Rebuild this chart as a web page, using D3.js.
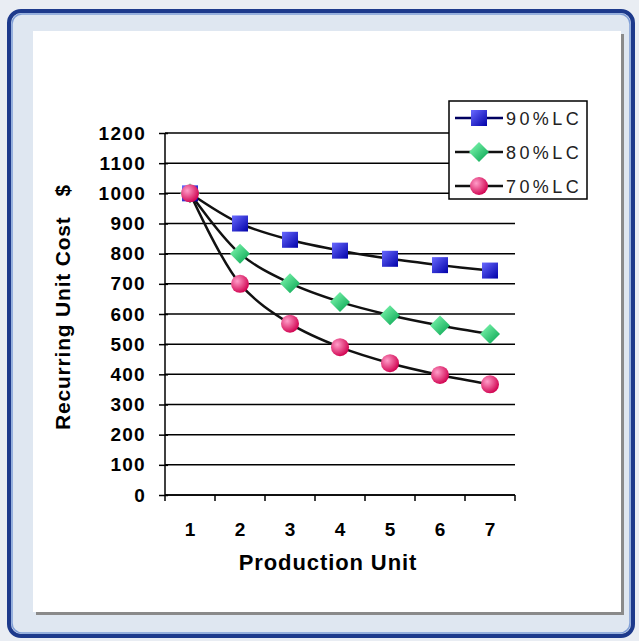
<!DOCTYPE html>
<meta charset="utf-8">
<body style="margin:0;background:#e9edf3">
<script src="https://cdn.jsdelivr.net/npm/d3@7"></script>
<svg id="chart" width="639" height="641"></svg>
<script>
var units = ["1", "2", "3", "4", "5", "6", "7"];
var lc90 = [1000, 900, 846, 810, 783, 762, 744];
var lc80 = [1000, 800, 702, 640, 596, 562, 534];
var lc70 = [1000, 700, 568, 490, 437, 398, 367];
var yTicks = [0, 100, 200, 300, 400, 500, 600, 700, 800, 900, 1000, 1100, 1200];
var seriesNames = ["90%LC", "80%LC", "70%LC"];

var svg = d3.select("#chart");
var defs = svg.append("defs");

// marker fills
var g1 = defs.append("linearGradient").attr("id", "gBlue").attr("x1", 0).attr("y1", 0).attr("x2", 1).attr("y2", 1);
g1.append("stop").attr("offset", "0%").attr("stop-color", "#6a6aff");
g1.append("stop").attr("offset", "100%").attr("stop-color", "#0000a8");
var g2 = defs.append("linearGradient").attr("id", "gGreen").attr("x1", 0).attr("y1", 0).attr("x2", 1).attr("y2", 1);
g2.append("stop").attr("offset", "0%").attr("stop-color", "#8affb8");
g2.append("stop").attr("offset", "100%").attr("stop-color", "#00a04c");
var g3 = defs.append("radialGradient").attr("id", "gPink").attr("cx", "35%").attr("cy", "35%").attr("r", "70%");
g3.append("stop").attr("offset", "0%").attr("stop-color", "#ff9cc8");
g3.append("stop").attr("offset", "100%").attr("stop-color", "#d0004e");

// frame
svg.append("rect").attr("x", 9).attr("y", 11).attr("width", 624).attr("height", 625)
  .attr("rx", 12).attr("fill", "#dfe7f1").attr("stroke", "#1d3a8c").attr("stroke-width", 4);
svg.append("rect").attr("x", 12).attr("y", 14).attr("width", 618).attr("height", 619)
  .attr("rx", 10).attr("fill", "none").attr("stroke", "#7f9ed6").attr("stroke-width", 1.5);
svg.append("rect").attr("x", 36).attr("y", 34).attr("width", 588).attr("height", 581).attr("fill", "#8a8a8a");
svg.append("rect").attr("x", 33).attr("y", 31).attr("width", 588).attr("height", 581).attr("fill", "#ffffff");

var x = d3.scaleBand().domain(units).range([165, 515]);
var y = d3.scaleLinear().domain([0, 1200]).range([495, 133]);
var font = "'Liberation Sans', Arial, sans-serif";

// gridlines
svg.append("g").selectAll("line").data(yTicks).join("line")
  .attr("x1", 165).attr("x2", 515)
  .attr("y1", function(d) { return y(d); }).attr("y2", function(d) { return y(d); })
  .attr("stroke", "#000").attr("stroke-width", 1.5);

// y axis
var yAxis = svg.append("g").attr("transform", "translate(165,0)")
  .call(d3.axisLeft(y).tickValues(yTicks).tickFormat(d3.format("d")).tickSize(6).tickPadding(13));
yAxis.select(".domain").attr("stroke-width", 1.5).attr("d", "M0,133V495");
yAxis.selectAll(".tick line").attr("stroke-width", 1.5).attr("x2", 3).attr("x1", -6);
yAxis.selectAll("text").attr("font-family", font).attr("font-weight", "bold").attr("font-size", 19)
  .attr("letter-spacing", 1.3).attr("fill", "#000");

// x axis
var xAxis = svg.append("g").attr("transform", "translate(0,495)")
  .call(d3.axisBottom(x).tickSize(0).tickPadding(28));
xAxis.select(".domain").attr("stroke-width", 1.5).attr("d", "M165,0H515");
xAxis.selectAll("text").attr("font-family", font).attr("font-weight", "bold").attr("font-size", 19).attr("fill", "#000");
xAxis.selectAll(".xt").data(d3.range(units.length + 1)).join("line")
  .attr("x1", function(i) { return 165 + i * x.bandwidth(); })
  .attr("x2", function(i) { return 165 + i * x.bandwidth(); })
  .attr("y1", 0).attr("y2", 6).attr("stroke", "#000").attr("stroke-width", 1.5);

// titles
svg.append("text").attr("x", 328).attr("y", 570).attr("text-anchor", "middle")
  .attr("font-family", font).attr("font-weight", "bold").attr("font-size", 22).attr("letter-spacing", 0.9)
  .text("Production Unit");
svg.append("text").attr("transform", "translate(70,307) rotate(-90)").attr("text-anchor", "middle")
  .attr("font-family", font).attr("font-weight", "bold").attr("font-size", 21).attr("letter-spacing", 0.8)
  .attr("xml:space", "preserve")
  .text("Recurring Unit Cost   $");

// lines
var line = d3.line()
  .x(function(d, i) { return x(units[i]) + x.bandwidth() / 2; })
  .y(function(d) { return y(d); })
  .curve(d3.curveCatmullRom.alpha(0.5));
var allSeries = [lc90, lc80, lc70];
allSeries.forEach(function(s) {
  svg.append("path").datum(s).attr("d", line).attr("fill", "none")
    .attr("stroke", "#111").attr("stroke-width", 2.5);
});

function drawMarker(g, k, cx, cy) {
  if (k === 0) {
    g.append("rect").attr("x", cx - 8).attr("y", cy - 8).attr("width", 16).attr("height", 16).attr("fill", "url(#gBlue)");
  } else if (k === 1) {
    g.append("path").attr("d", "M" + cx + "," + (cy - 10) + "L" + (cx + 10) + "," + cy + "L" + cx + "," + (cy + 10) + "L" + (cx - 10) + "," + cy + "Z")
      .attr("fill", "url(#gGreen)");
  } else {
    g.append("circle").attr("cx", cx).attr("cy", cy).attr("r", 9).attr("fill", "url(#gPink)");
  }
}

allSeries.forEach(function(s, k) {
  var g = svg.append("g");
  s.forEach(function(v, i) {
    drawMarker(g, k, x(units[i]) + x.bandwidth() / 2, y(v));
  });
});

// legend
var leg = svg.append("g");
leg.append("rect").attr("x", 449).attr("y", 101).attr("width", 138).attr("height", 98)
  .attr("fill", "#fff").attr("stroke", "#000").attr("stroke-width", 1.5);
seriesNames.forEach(function(n, k) {
  var ly = 118 + k * 34;
  leg.append("line").attr("x1", 455).attr("x2", 503).attr("y1", ly).attr("y2", ly)
    .attr("stroke", k === 0 ? "#000060" : "#111").attr("stroke-width", 2.5);
  drawMarker(leg, k, 479, ly);
  leg.append("text").attr("x", 506).attr("y", ly + 7).attr("font-family", font)
    .attr("font-size", 18).attr("letter-spacing", 3.4).attr("fill", "#222").text(n);
});
</script>
</body>
